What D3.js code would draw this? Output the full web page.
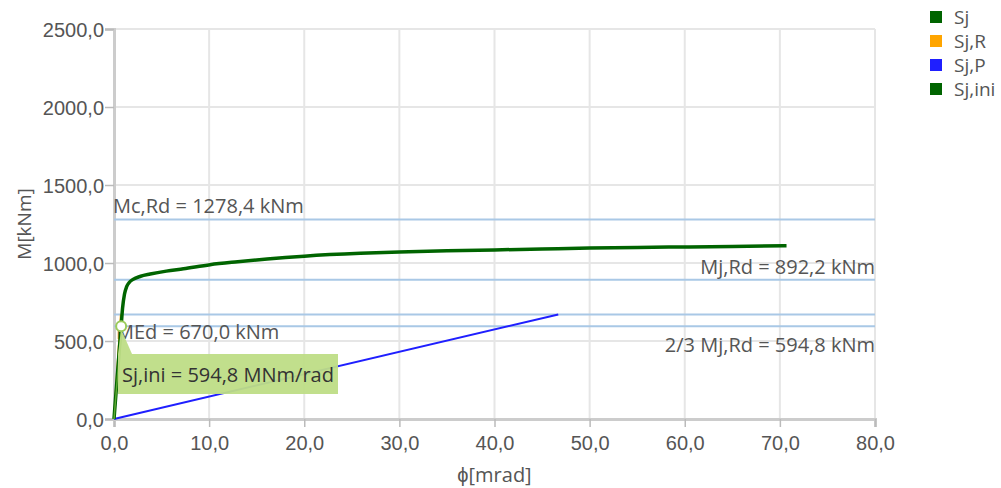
<!DOCTYPE html>
<html>
<head>
<meta charset="utf-8">
<script src="https://cdn.jsdelivr.net/npm/d3@7"></script>
<style>
    body { margin: 0; background: #fff; }
    svg { font-family: "Open Sans", sans-serif; }
    .tick text { fill: #555; font-size: 20px; }
    .annot { fill: #555; font-size: 20px; }
</style>
</head>
<body>
<div id="chart"></div>
<script>
var width = 1001,
    height = 488;

var margin = {left: 114, right: 126, top: 29, bottom: 69};

// Sj curve (phi in mrad, M in kNm)
var sjPhi = [0, 0.75, 0.9, 1.1, 1.33, 1.6, 2.0, 2.8, 3.8, 5.5, 7.3, 10.1, 13, 16.1, 20, 25.9, 30, 35, 40, 45, 50, 55, 60, 65, 70.7];
var sjM   = [0, 594.8, 711, 800, 848, 875, 895, 915, 929, 948, 963, 989, 1008, 1026, 1044, 1062, 1070, 1078, 1084, 1090, 1096, 1100, 1103, 1106, 1110];

var sjRPhi = [0, 0.72], sjRM = [0, 670];
var sjPPhi = [0, 46.7], sjPM = [0, 670];
var sjIniPhi = [0, 0.8], sjIniM = [0, 594.8];

var refValues = [1278.4, 892.2, 670.0, 594.8];
var refLabels = ["Mc,Rd = 1278,4 kNm", "Mj,Rd = 892,2 kNm", "MEd = 670,0 kNm", "2/3 Mj,Rd = 594,8 kNm"];

var xTicks = [0, 10, 20, 30, 40, 50, 60, 70, 80];
var yTicks = [0, 500, 1000, 1500, 2000, 2500];

var legendNames = ["Sj", "Sj,R", "Sj,P", "Sj,ini"];
var legendColors = ["#006400", "#ffa500", "#1f1fff", "#006400"];

var fmt = function(v) { return d3.format(".1f")(v).replace(".", ","); };

var svg = d3.select("#chart").append("svg")
    .attr("width", width)
    .attr("height", height);

var x = d3.scaleLinear().domain([0, 80]).range([margin.left, width - margin.right]);
var y = d3.scaleLinear().domain([0, 2500]).range([height - margin.bottom, margin.top]);

// grid
svg.append("g").selectAll("line")
    .data(xTicks.slice(1))
    .enter().append("line")
    .attr("x1", function(d) { return x(d); })
    .attr("x2", function(d) { return x(d); })
    .attr("y1", y(0)).attr("y2", y(2500))
    .attr("stroke", "#e6e6e6").attr("stroke-width", 2);
svg.append("g").selectAll("line")
    .data(yTicks.slice(1))
    .enter().append("line")
    .attr("x1", x(0)).attr("x2", x(80))
    .attr("y1", function(d) { return y(d); })
    .attr("y2", function(d) { return y(d); })
    .attr("stroke", "#e6e6e6").attr("stroke-width", 2);

// axes
var xAxis = svg.append("g")
    .attr("transform", "translate(0," + y(0) + ")")
    .call(d3.axisBottom(x).tickValues(xTicks).tickFormat(fmt).tickSize(8).tickPadding(8));
var yAxis = svg.append("g")
    .attr("transform", "translate(" + x(0) + ",0)")
    .call(d3.axisLeft(y).tickValues(yTicks).tickFormat(fmt).tickSize(9).tickPadding(1));
[xAxis, yAxis].forEach(function(a) {
    a.select(".domain").attr("stroke", "#cccccc").attr("stroke-width", 3);
    a.selectAll(".tick line").attr("stroke", "#bbbbbb").attr("stroke-width", 1.5);
});
xAxis.selectAll(".tick text").attr("dy", "0.75em");
yAxis.selectAll(".tick text").attr("dy", "0.35em");

// reference lines
svg.append("g").selectAll("line")
    .data(refValues)
    .enter().append("line")
    .attr("x1", x(0)).attr("x2", x(80))
    .attr("y1", function(d) { return y(d); })
    .attr("y2", function(d) { return y(d); })
    .attr("stroke", "#a9c8e6").attr("stroke-width", 2);

svg.append("text").attr("class", "annot")
    .attr("x", x(0) - 1).attr("y", y(refValues[0]) - 7).text(refLabels[0]);
svg.append("text").attr("class", "annot")
    .attr("x", x(80)).attr("y", y(refValues[1]) - 6)
    .attr("text-anchor", "end").text(refLabels[1]);
svg.append("text").attr("class", "annot")
    .attr("x", x(0) + 2).attr("y", y(refValues[2]) + 25).text(refLabels[2]);
svg.append("text").attr("class", "annot")
    .attr("x", x(80)).attr("y", y(refValues[3]) + 26)
    .attr("text-anchor", "end").text(refLabels[3]);

var line = d3.line()
    .x(function(d) { return x(d[0]); })
    .y(function(d) { return y(d[1]); });

function pts(a, b) { return a.map(function(v, i) { return [v, b[i]]; }); }

svg.append("path")
    .datum(pts(sjPPhi, sjPM))
    .attr("d", line)
    .attr("fill", "none").attr("stroke", legendColors[2]).attr("stroke-width", 2);

svg.append("path")
    .datum(pts(sjRPhi, sjRM))
    .attr("d", line)
    .attr("fill", "none").attr("stroke", legendColors[1]).attr("stroke-width", 2);

svg.append("path")
    .datum(pts(sjPhi, sjM))
    .attr("d", line.curve(d3.curveMonotoneX))
    .attr("fill", "none").attr("stroke", legendColors[0]).attr("stroke-width", 3.5);
line.curve(d3.curveLinear);

svg.append("path")
    .datum(pts(sjIniPhi, sjIniM))
    .attr("d", line)
    .attr("fill", "none").attr("stroke", "#5ea832").attr("stroke-width", 1.5);

// callout
var cx = x(sjPhi[1]), cy = y(sjM[1]);
var box = {x: 118, y: 354, w: 220, h: 40};
svg.append("path")
    .attr("d", "M" + cx + "," + (cy + 3) + "L" + (box.x + 14) + "," + box.y + "L" + box.x + "," + box.y + "Z")
    .attr("fill", "#bedd86").attr("opacity", 0.95);
svg.append("rect")
    .attr("x", box.x).attr("y", box.y)
    .attr("width", box.w).attr("height", box.h)
    .attr("fill", "#bedd86").attr("opacity", 0.95);
svg.append("text")
    .attr("x", box.x + 4).attr("y", box.y + 28)
    .attr("fill", "#333").style("font-size", "20px")
    .text("Sj,ini = 594,8 MNm/rad");
svg.append("circle")
    .attr("cx", cx).attr("cy", cy).attr("r", 5)
    .attr("fill", "#fff").attr("stroke", "#9bcb5a").attr("stroke-width", 2);

// axis titles
svg.append("text")
    .attr("x", (x(0) + x(80)) / 2).attr("y", 482)
    .attr("text-anchor", "middle").attr("fill", "#555").style("font-size", "20px")
    .text("ϕ[mrad]");
svg.append("text")
    .attr("transform", "translate(31," + y(1250) + ") rotate(-90)")
    .attr("text-anchor", "middle").attr("fill", "#555").style("font-size", "19px")
    .text("M[kNm]");

// legend
var legend = svg.append("g").selectAll("g")
    .data(legendNames)
    .enter().append("g")
    .attr("transform", function(d, i) { return "translate(930," + (11 + i * 24) + ")"; });
legend.append("rect")
    .attr("width", 12).attr("height", 12)
    .attr("fill", function(d, i) { return legendColors[i]; });
legend.append("text")
    .attr("x", 24).attr("y", 6).attr("dy", "0.35em")
    .attr("fill", "#555").style("font-size", "19px")
    .text(function(d) { return d; });
</script>
</body>
</html>
